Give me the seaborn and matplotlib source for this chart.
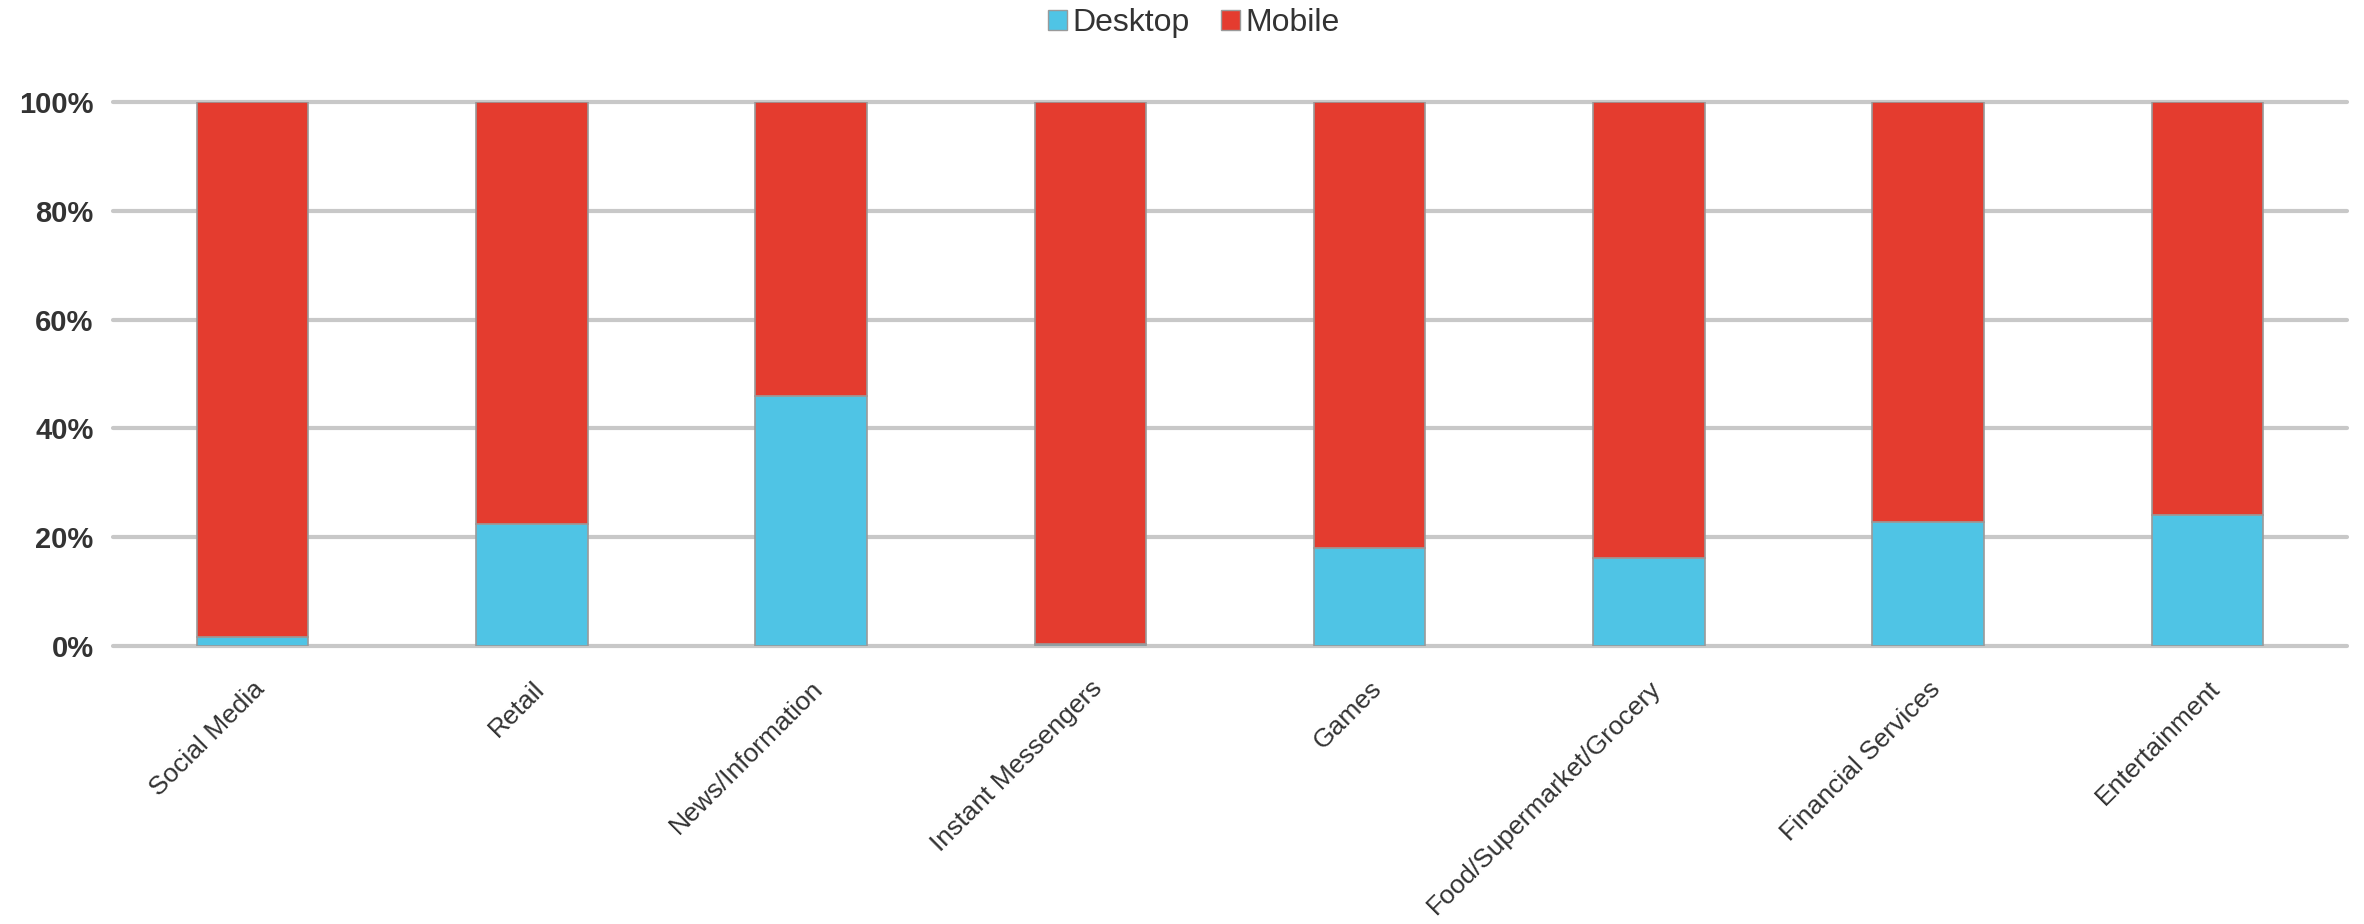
import numpy as np
import pandas as pd
import matplotlib
matplotlib.use("Agg")
import matplotlib.pyplot as plt
from matplotlib.patches import Patch
import seaborn as sns

# Share of visits by device, per site category (percent)
categories = ["Social Media", "Retail", "News/Information", "Instant Messengers",
              "Games", "Food/Supermarket/Grocery", "Financial Services", "Entertainment"]
desktop = [1.7, 22.5, 46.0, 0.3, 18.0, 16.2, 22.8, 24.0]
mobile = [98.3, 77.5, 54.0, 99.7, 82.0, 83.8, 77.2, 76.0]
y_ticks = [0, 20, 40, 60, 80, 100]

DESKTOP_COLOR = "#4fc4e5"
MOBILE_COLOR = "#e43c2f"
EDGE = "#9a9a9a"
TEXT = "#333333"

sns.set_theme(style="white")
plt.rcParams["font.family"] = ["Liberation Sans", "DejaVu Sans"]

df = pd.DataFrame({"category": categories, "Desktop": desktop, "Mobile": mobile})

fig = plt.figure(figsize=(23.64, 9.24), dpi=100)
ax = fig.add_axes([0.0478, 0.3009, 0.945, 0.5887])

sns.barplot(data=df, x="category", y="Desktop", order=categories, color=DESKTOP_COLOR,
            width=0.4, saturation=1, edgecolor=EDGE, linewidth=1.2, ax=ax, zorder=3)
sns.barplot(data=df, x="category", y="Mobile", order=categories, color=MOBILE_COLOR,
            width=0.4, saturation=1, edgecolor=EDGE, linewidth=1.2, ax=ax, zorder=3,
            bottom=np.array(desktop))

ax.set_xlim(-0.5, len(categories) - 0.5)
ax.set_ylim(0, 100)
ax.set_yticks(y_ticks)
ax.set_yticklabels([f"{v}%" for v in y_ticks], fontsize=21, color=TEXT, fontweight="bold")
ax.set_xlabel("")
ax.set_ylabel("")

ax.set_xticks(range(len(categories)))
ax.set_xticklabels(categories, rotation=45, ha="right", rotation_mode="anchor",
                   fontsize=19, color=TEXT)
ax.tick_params(axis="x", length=0, pad=22)
ax.tick_params(axis="y", length=0, pad=14)

ax.set_axisbelow(True)
ax.grid(axis="y", color="#c8c8c8", linewidth=3)
ax.grid(axis="x", visible=False)
for line in ax.get_ygridlines():
    line.set_clip_on(False)
for spine in ax.spines.values():
    spine.set_visible(False)

handles = [Patch(facecolor=DESKTOP_COLOR, edgecolor=EDGE, label="Desktop"),
           Patch(facecolor=MOBILE_COLOR, edgecolor=EDGE, label="Mobile")]
fig.legend(handles=handles, loc="center", bbox_to_anchor=(0.505, 0.975), ncol=2,
           frameon=False, fontsize=23, handlelength=0.6, handleheight=0.6,
           handletextpad=0.15, columnspacing=1.0, labelcolor=TEXT)

fig.savefig("out.png", dpi=100, facecolor="white")
